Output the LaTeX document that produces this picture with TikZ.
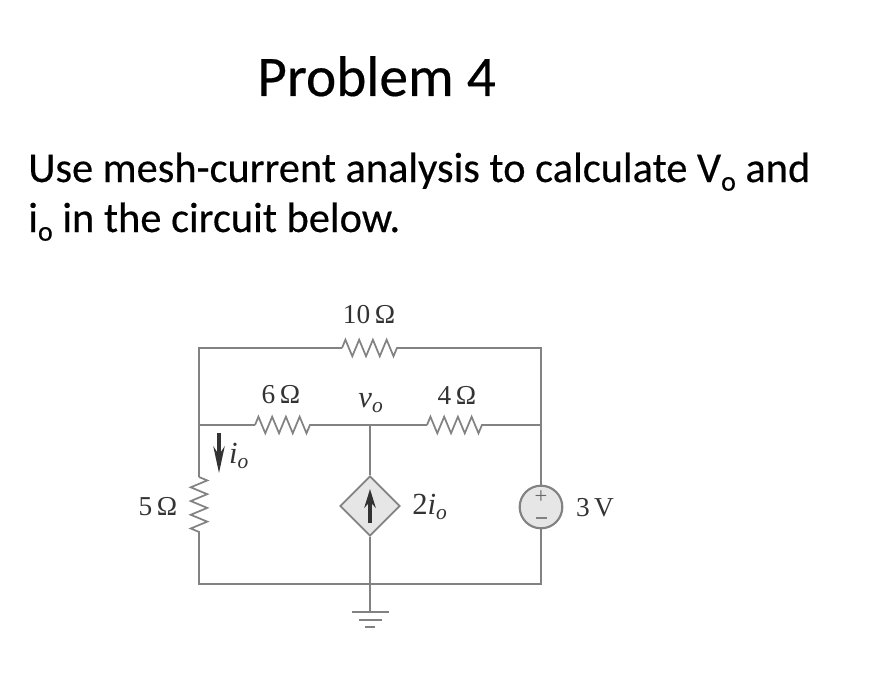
\documentclass[tikz,border=0pt]{standalone}
\usepackage{fontspec}
\setmainfont[FakeBold=0.35]{Carlito}
\newfontfamily\circuitfont{Liberation Serif}
\usetikzlibrary{arrows.meta,decorations.pathmorphing,shapes.geometric}
\definecolor{wiregray}{HTML}{828282}
\definecolor{labelgray}{HTML}{333333}
\definecolor{sourcegray}{HTML}{E6E6E6}
\newcommand{\lowo}{\raisebox{-6.5pt}{\fontsize{21}{21}\selectfont o}}
\tikzset{
    wire/.style={draw=wiregray,line width=1.3pt},
    zig/.style={wire,decorate,decoration={zigzag,amplitude=6.2pt,segment length=10.3pt}},
    circuitlabel/.style={text=labelgray,font=\circuitfont\fontsize{20.5}{22}\selectfont,inner sep=0pt},
    symbollabel/.style={circuitlabel,font=\circuitfont\fontsize{23}{25}\selectfont},
    headline/.style={anchor=base west,inner sep=0pt,font=\fontsize{43}{47}\selectfont},
    bodyline/.style={anchor=base west,inner sep=0pt,font=\fontsize{31.8}{35}\selectfont},
    currentarrow/.style={draw=labelgray,line width=2.4pt,-{Stealth[length=20pt,width=8.5pt]}},
    sourcearrow/.style={draw=labelgray,line width=2.4pt,-{Stealth[length=14pt,width=8.5pt]}},
}
\begin{document}
\begin{tikzpicture}[x=0.75pt,y=-0.75pt]
    \useasboundingbox (0,0) rectangle (874,688);
    %% text above the circuit
    \node[headline] (title) at (257,96) {Problem 4};
    \node[bodyline] (lineone) at (28,182) {Use mesh-current analysis to calculate V\lowo{} and};
    \node[bodyline] (linetwo) at (28,232) {i\lowo{} in the circuit below.};
    %% corners and wire ends
    \coordinate (tl) at (199,348);
    \coordinate (tr) at (541,348);
    \coordinate (ml) at (199,425);
    \coordinate (mc) at (370,425);
    \coordinate (mr) at (541,425);
    \coordinate (bl) at (199,584);
    \coordinate (bc) at (370,584);
    \coordinate (br) at (541,584);
    \coordinate (gnd) at (370,612);
    \coordinate (rtena) at (342,348);
    \coordinate (rtenb) at (398,348);
    \coordinate (rsixa) at (255,425);
    \coordinate (rsixb) at (311,425);
    \coordinate (rfoura) at (427,425);
    \coordinate (rfourb) at (483,425);
    \coordinate (rfivea) at (199,477);
    \coordinate (rfiveb) at (199,533);
    %% sources
    \node[diamond,draw=wiregray,fill=sourcegray,line width=1.3pt,minimum size=45pt,inner sep=0pt,shape aspect=1] (dep) at (370,506) {};
    \node[circle,draw=wiregray,fill=sourcegray,line width=1.6pt,minimum size=32pt,inner sep=0pt] (vs) at (541,507) {};
    %% wires
    \draw[wire] (rfivea) -- (tl) -- (rtena);
    \draw[wire] (rtenb) -- (tr) -- (vs);
    \draw[wire] (ml) -- (rsixa);
    \draw[wire] (rsixb) -- (rfoura);
    \draw[wire] (mc) -- (dep);
    \draw[wire] (dep) -- (gnd);
    \draw[wire] (rfiveb) -- (bl) -- (br) -- (vs);
    \draw[wire] (rfourb) -- (mr);
    %% resistors
    \draw[zig] (rtena) -- (rtenb);
    \draw[zig] (rsixa) -- (rsixb);
    \draw[zig] (rfoura) -- (rfourb);
    \draw[zig] (rfivea) -- (rfiveb);
    %% ground
    \coordinate (gnda) at (352,612);
    \coordinate (gndb) at (389,612);
    \coordinate (gndc) at (359,620);
    \coordinate (gndd) at (382,620);
    \coordinate (gnde) at (365,627);
    \coordinate (gndf) at (375,627);
    \draw[wire] (gnda) -- (gndb);
    \draw[wire] (gndc) -- (gndd);
    \draw[wire] (gnde) -- (gndf);
    %% arrows
    \coordinate (ioa) at (219,433);
    \coordinate (iob) at (219,473);
    \coordinate (depa) at (370,523);
    \coordinate (depb) at (370,489);
    \draw[currentarrow] (ioa) -- (iob);
    \draw[sourcearrow] (depa) -- (depb);
    %% polarity of the 3 V source
    \node[circuitlabel,text=wiregray!80!black,font=\circuitfont\fontsize{17}{17}\selectfont] (plus) at (541,497) {+};
    \coordinate (minusa) at (536,518);
    \coordinate (minusb) at (547,518);
    \draw[wire,line width=1pt] (minusa) -- (minusb);
    %% labels
    \node[circuitlabel] (labten) at (369,315) {10\,Ω};
    \node[circuitlabel] (labsix) at (281,395) {6\,Ω};
    \node[circuitlabel] (labfour) at (457,395) {4\,Ω};
    \node[circuitlabel] (labfive) at (158,507) {5\,Ω};
    \node[symbollabel] (labvo) at (371,403) {\textit{v\textsubscript{o}}};
    \node[symbollabel] (labio) at (239,456) {\textit{i\textsubscript{o}}};
    \node[symbollabel] (labdep) at (430,507) {2\textit{i\textsubscript{o}}};
    \node[circuitlabel] (labvs) at (595,508) {3\,V};
\end{tikzpicture}
\end{document}
